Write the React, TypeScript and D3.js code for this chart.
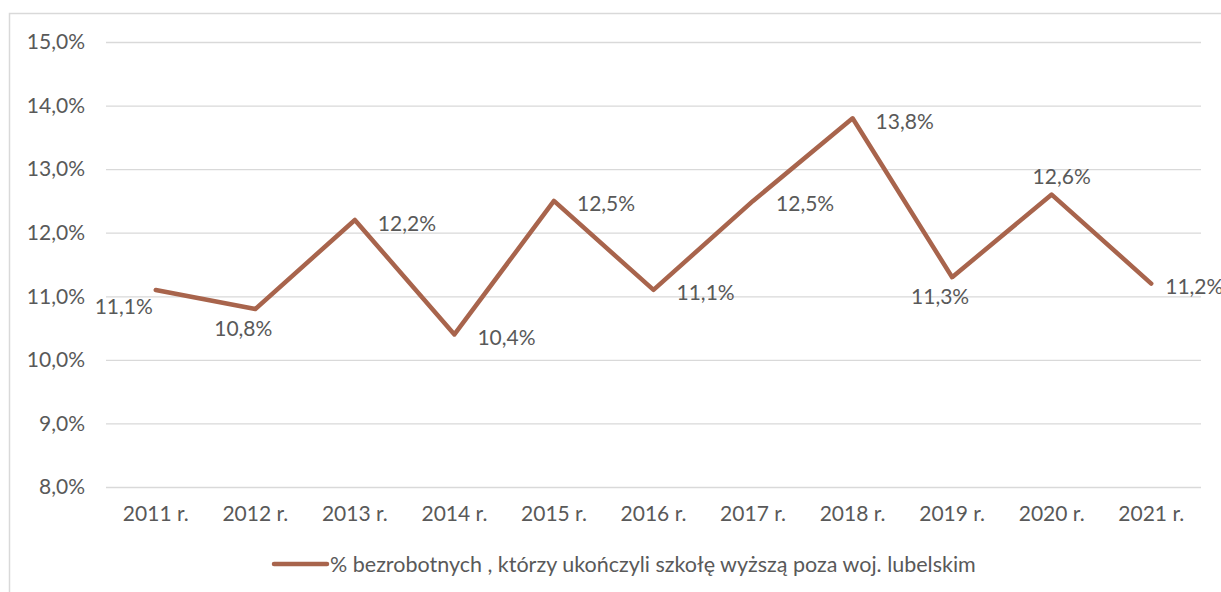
import { useRef, useEffect } from "react";
import { select, scaleBand, scaleLinear, line, axisLeft, axisBottom } from "d3";

// Chart data
const years = ["2011 r.", "2012 r.", "2013 r.", "2014 r.", "2015 r.", "2016 r.", "2017 r.", "2018 r.", "2019 r.", "2020 r.", "2021 r."];
const values = [11.1, 10.8, 12.2, 10.4, 12.5, 11.1, 12.5, 13.8, 11.3, 12.6, 11.2];
const yTicks = [8, 9, 10, 11, 12, 13, 14, 15];
const labelPlacement = ["leftBelow", "below", "right", "right", "right", "right", "right", "right", "below", "above", "rightTight"];
const seriesName = "% bezrobotnych , którzy ukończyli szkołę wyższą poza woj. lubelskim";

const W = 1221;
const H = 592;
const margin = { top: 42, right: 20, bottom: 105, left: 106 };
const LINE_COLOR = "#a8644c";
const TEXT_COLOR = "#595959";
const GRID_COLOR = "#d9d9d9";
const FONT = "Lato, 'Open Sans', sans-serif";
const FS = "21px";

const fmt = (v: number) => v.toFixed(1).replace(".", ",") + "%";

// [dx, dy, anchor]
const offsets: Record<string, [number, number, string]> = {
  right: [23, 2, "start"],
  rightTight: [14, 2, "start"],
  below: [-12, 18, "middle"],
  above: [10, -19, "middle"],
  leftBelow: [-32, 16, "middle"],
};

const App = () => {
  const svgRef = useRef<SVGSVGElement>(null);

  useEffect(() => {
    const svg = select(svgRef.current);
    svg.selectAll("*").remove();

    const x = scaleBand().domain(years).range([margin.left, 1201]);
    const y = scaleLinear().domain([8, 15]).range([487, margin.top]);

    // outer frame
    svg.append("rect")
      .attr("x", 9.5).attr("y", 13.5)
      .attr("width", 1240).attr("height", 600)
      .attr("fill", "white").attr("stroke", GRID_COLOR).attr("stroke-width", 1.5);

    // Y axis + grid
    const yAxis = axisLeft(y).tickValues(yTicks).tickSize(-(1201 - margin.left)).tickPadding(21).tickFormat((d) => fmt(d as number));
    const gy = svg.append("g").attr("transform", `translate(${margin.left},0)`).call(yAxis);
    gy.select(".domain").remove();
    gy.selectAll(".tick line").attr("stroke", GRID_COLOR).attr("stroke-width", 1.3);
    gy.selectAll(".tick text").attr("fill", TEXT_COLOR).style("font-size", FS).style("font-family", FONT);

    // X axis labels
    const xAxis = axisBottom(x).tickSize(0).tickPadding(19);
    const gx = svg.append("g").attr("transform", `translate(0,487)`).call(xAxis);
    gx.select(".domain").remove();
    gx.selectAll(".tick text").attr("fill", TEXT_COLOR).style("font-size", FS).style("font-family", FONT);

    // line
    const cx = (i: number) => (x(years[i]) as number) + x.bandwidth() / 2;
    const path = line<number>().x((_, i) => cx(i)).y((d) => y(d));
    svg.append("path")
      .attr("d", path(values))
      .attr("fill", "none")
      .attr("stroke", LINE_COLOR)
      .attr("stroke-width", 4.5)
      .attr("stroke-linejoin", "round")
      .attr("stroke-linecap", "round");

    // data labels
    svg.append("g").selectAll("text")
      .data(values)
      .join("text")
      .attr("x", (_, i) => cx(i) + offsets[labelPlacement[i]][0])
      .attr("y", (d, i) => y(d) + offsets[labelPlacement[i]][1])
      .attr("text-anchor", (_, i) => offsets[labelPlacement[i]][2])
      .attr("dominant-baseline", "central")
      .attr("fill", TEXT_COLOR)
      .style("font-size", FS)
      .style("font-family", FONT)
      .text((d) => fmt(d));

    // legend
    const lg = svg.append("g");
    lg.append("line")
      .attr("x1", 274).attr("x2", 327).attr("y1", 564).attr("y2", 564)
      .attr("stroke", LINE_COLOR).attr("stroke-width", 4.5).attr("stroke-linecap", "round");
    lg.append("text")
      .attr("x", 330).attr("y", 564)
      .attr("dominant-baseline", "central")
      .attr("fill", TEXT_COLOR)
      .style("font-size", "21.5px")
      .style("font-family", FONT)
      .text(seriesName);
  }, []);

  return (
    <svg ref={svgRef} width={W} height={H} style={{ position: "absolute", left: 0, top: 0, background: "white" }}></svg>
  );
};

export default App;
